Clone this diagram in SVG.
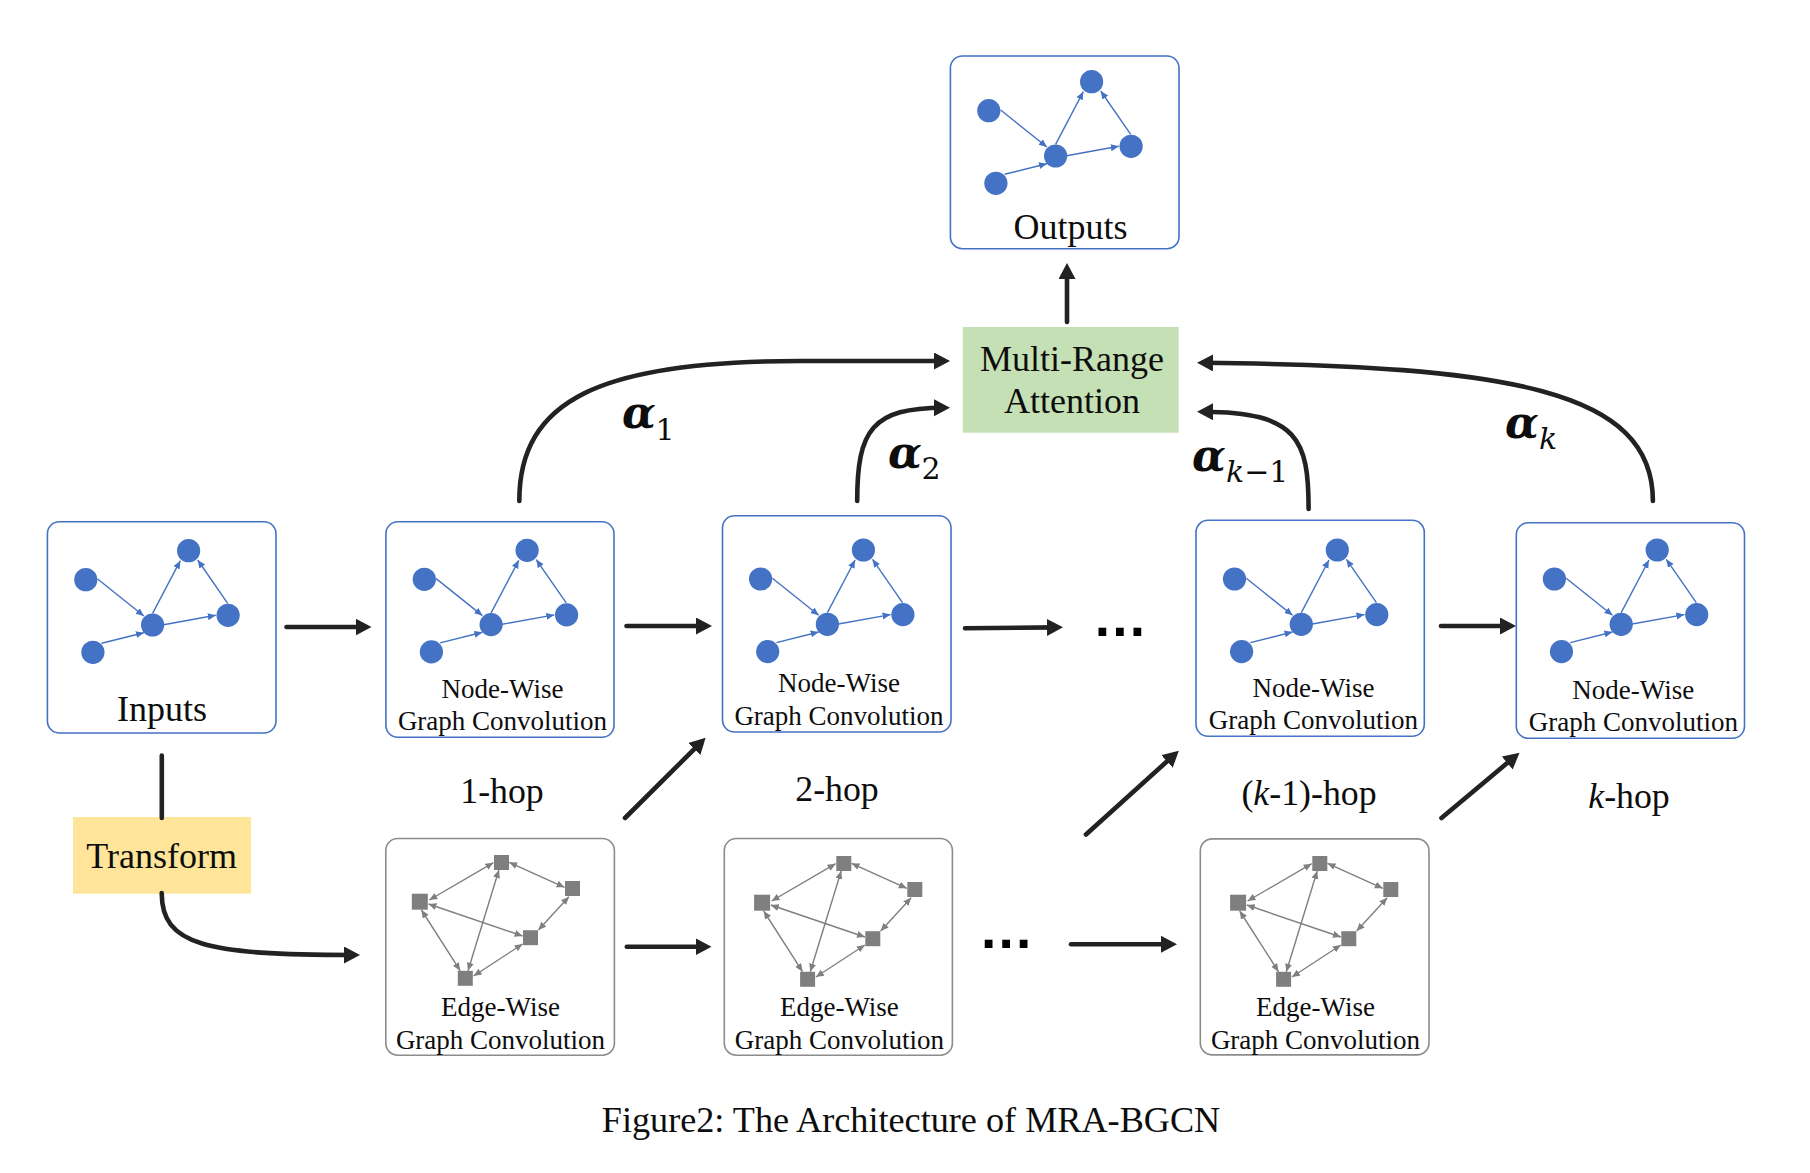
<svg xmlns="http://www.w3.org/2000/svg" width="1810" height="1173" viewBox="0 0 1810 1173">
<style>
text{font-family:"Liberation Serif","Times New Roman",serif;fill:#0d0d0d;text-anchor:middle}
.big{font-size:36px}
.small{font-size:27px}
.hop{font-size:35.8px}
.box{fill:#fff;stroke:#4472c4;stroke-width:1.6}
.gbox{fill:#fff;stroke:#8c8c8c;stroke-width:1.6}
.c{fill:#4472c4}
.s{fill:#7f7f7f}
.be{stroke:#4472c4;stroke-width:1.4;fill:none;marker-end:url(#bh)}
.ge{stroke:#7f7f7f;stroke-width:1.4;fill:none;marker-start:url(#gh);marker-end:url(#gh)}
.a{stroke:#222;stroke-width:4.6;fill:none;stroke-linecap:round;marker-end:url(#ah)}
.l{stroke:#222;stroke-width:4.6;fill:none;stroke-linecap:round}
.al{font-family:"DejaVu Serif",serif;font-weight:bold;font-style:italic;font-size:44px;text-anchor:start}
.sub{font-family:"DejaVu Serif",serif;font-size:30px;text-anchor:start}
.dots{font-family:"Liberation Sans",sans-serif;font-weight:bold;font-size:55px;letter-spacing:2.2px;fill:#000;text-anchor:start}
</style>
<defs>
<marker id="ah" markerUnits="userSpaceOnUse" markerWidth="18" markerHeight="18" refX="10" refY="8.5" orient="auto"><path d="M0,0L16,8.5L0,17Z" fill="#222"/></marker>
<marker id="bh" markerUnits="userSpaceOnUse" markerWidth="9" markerHeight="8" refX="8" refY="3.5" orient="auto"><path d="M0,0L8,3.5L0,7Z" fill="#4472c4"/></marker>
<marker id="gh" markerUnits="userSpaceOnUse" markerWidth="9" markerHeight="8" refX="8" refY="3.5" orient="auto-start-reverse"><path d="M0,0L8,3.5L0,7Z" fill="#7f7f7f"/></marker>
<g id="bg">
<path class="be" d="M97.6,579L143.9,616"/>
<path class="be" d="M101.6,643.3L143.9,632.7"/>
<path class="be" d="M152.6,613.3L180.3,560.7"/>
<path class="be" d="M163.6,624.7L215.8,615.3"/>
<path class="be" d="M227.7,603.3L197.7,560"/>
<circle class="c" cx="188.6" cy="550.7" r="11.6"/>
<circle class="c" cx="85.8" cy="579.7" r="11.6"/>
<circle class="c" cx="152.6" cy="625" r="11.6"/>
<circle class="c" cx="228.1" cy="615.3" r="11.6"/>
<circle class="c" cx="92.9" cy="652.3" r="11.6"/>
</g>
<g id="gg">
<path class="ge" d="M429.3,900L493.4,862.7"/>
<path class="ge" d="M509.2,862.3L564.5,887.3"/>
<path class="ge" d="M498.9,870L468,970.7"/>
<path class="ge" d="M428.5,904L522.6,936"/>
<path class="ge" d="M421.4,910L460.2,970.7"/>
<path class="ge" d="M568.9,896.7L538.4,930"/>
<path class="ge" d="M522.6,944L473.6,976"/>
<rect class="s" x="494" y="855" width="15" height="15"/>
<rect class="s" x="565" y="881" width="15" height="15"/>
<rect class="s" x="411.8" y="893.7" width="16" height="16"/>
<rect class="s" x="523" y="930.2" width="15" height="15"/>
<rect class="s" x="457.8" y="970.8" width="15" height="15"/>
</g>
</defs>
<rect width="1810" height="1173" fill="#fff"/>

<g id="outputs">
<rect class="box" x="950.4" y="56" width="228.6" height="192.7" rx="12"/>
<use href="#bg" transform="translate(903,-469)"/>
<text class="big" x="1070.5" y="239">Outputs</text>
</g>
<g id="attention">
<rect x="962.8" y="327" width="215.8" height="105.7" fill="#c5e0b4"/>
<text class="big" x="1072" y="370.5">Multi-Range</text>
<text class="big" x="1072" y="413">Attention</text>
</g>
<g id="inputs">
<rect class="box" x="47.4" y="521.7" width="228.6" height="211.3" rx="12"/>
<use href="#bg"/>
<text class="big" x="162" y="721">Inputs</text>
</g>
<g id="transform">
<rect x="73" y="817" width="178" height="76.7" fill="#ffe599"/>
<text class="big" x="161.7" y="868">Transform</text>
</g>
<g id="node1">
<rect class="box" x="385.9" y="521.7" width="228.1" height="215.6" rx="12"/>
<use href="#bg" transform="translate(338.5,-0.4)"/>
<text class="small" x="502.5" y="697.5">Node-Wise</text>
<text class="small" x="502.5" y="730">Graph Convolution</text>
</g>
<g id="node2">
<rect class="box" x="722.5" y="515.7" width="228.5" height="216.3" rx="12"/>
<use href="#bg" transform="translate(674.8,-0.7)"/>
<text class="small" x="839" y="692">Node-Wise</text>
<text class="small" x="839" y="724.7">Graph Convolution</text>
</g>
<g id="nodek1">
<rect class="box" x="1196" y="520.3" width="228.3" height="216" rx="12"/>
<use href="#bg" transform="translate(1148.7,-0.7)"/>
<text class="small" x="1313.5" y="697">Node-Wise</text>
<text class="small" x="1313.4" y="729">Graph Convolution</text>
</g>
<g id="nodek">
<rect class="box" x="1516.3" y="522.7" width="228.2" height="215.6" rx="12"/>
<use href="#bg" transform="translate(1468.6,-0.7)"/>
<text class="small" x="1633.3" y="699">Node-Wise</text>
<text class="small" x="1633.3" y="731.3">Graph Convolution</text>
</g>
<g id="edge1">
<rect class="gbox" x="385.8" y="838.5" width="228.6" height="216.7" rx="12"/>
<use href="#gg"/>
<text class="small" x="500.5" y="1016.3">Edge-Wise</text>
<text class="small" x="500.5" y="1049">Graph Convolution</text>
</g>
<g id="edge2">
<rect class="gbox" x="724.3" y="838.5" width="228.1" height="216.7" rx="12"/>
<use href="#gg" transform="translate(342.3,1)"/>
<text class="small" x="839.4" y="1016.3">Edge-Wise</text>
<text class="small" x="839.4" y="1049">Graph Convolution</text>
</g>
<g id="edge3">
<rect class="gbox" x="1200.3" y="838.9" width="228.7" height="216" rx="12"/>
<use href="#gg" transform="translate(818.3,1)"/>
<text class="small" x="1315.5" y="1016">Edge-Wise</text>
<text class="small" x="1315.5" y="1049">Graph Convolution</text>
</g>

<g id="connectors">
<path class="a" d="M1067,322L1067,269"/>
<path class="a" d="M519.3,501C519.3,400 600,361 800,361L944,361"/>
<path class="a" d="M857.2,501C857.2,430 872,407.7 944,407.7"/>
<path class="a" d="M1652.9,501C1652.9,390 1510,366 1203,362.8"/>
<path class="a" d="M1308.6,509C1308.6,440 1298,412 1203,411.7"/>
<path class="a" d="M286.5,627L365.5,627"/>
<path class="a" d="M626.5,626L706,626"/>
<path class="a" d="M965,628.3L1057,627.4"/>
<path class="a" d="M1441,626L1510,626"/>
<path class="a" d="M625,818L701.4,742"/>
<path class="a" d="M1086,834.5L1174.4,754.7"/>
<path class="a" d="M1441.5,818L1514.9,756.6"/>
<path class="a" d="M626.8,946.7L705.5,946.7"/>
<path class="a" d="M1071,944.3L1171,944.3"/>
<path class="l" d="M161.8,755.5L161.8,818"/>
<path class="a" d="M161.7,893C161.7,945 205,955 354,955"/>
</g>

<g id="labels">
<text class="hop" x="502" y="802.5">1-hop</text>
<text class="hop" x="837" y="801.3">2-hop</text>
<text class="hop" x="1309" y="805.3">(<tspan font-style="italic">k</tspan>-1)-hop</text>
<text class="hop" x="1629" y="808.3"><tspan font-style="italic">k</tspan>-hop</text>
<text class="dots" x="1094.7" y="636.3">...</text>
<text class="dots" x="981" y="948">...</text>
<text class="al" x="622" y="428">α</text><text class="sub" x="655.5" y="440">1</text>
<text class="al" x="888" y="468">α</text><text class="sub" x="921.5" y="479">2</text>
<text class="al" x="1192" y="470.7">α</text><text class="sub" x="1226" y="482"><tspan font-style="italic">k</tspan>−1</text>
<text class="al" x="1505" y="438">α</text><text class="sub" x="1539" y="449" font-style="italic">k</text>
<text x="911" y="1132" font-size="36.2">Figure2: The Architecture of MRA-BGCN</text>
</g>
</svg>
